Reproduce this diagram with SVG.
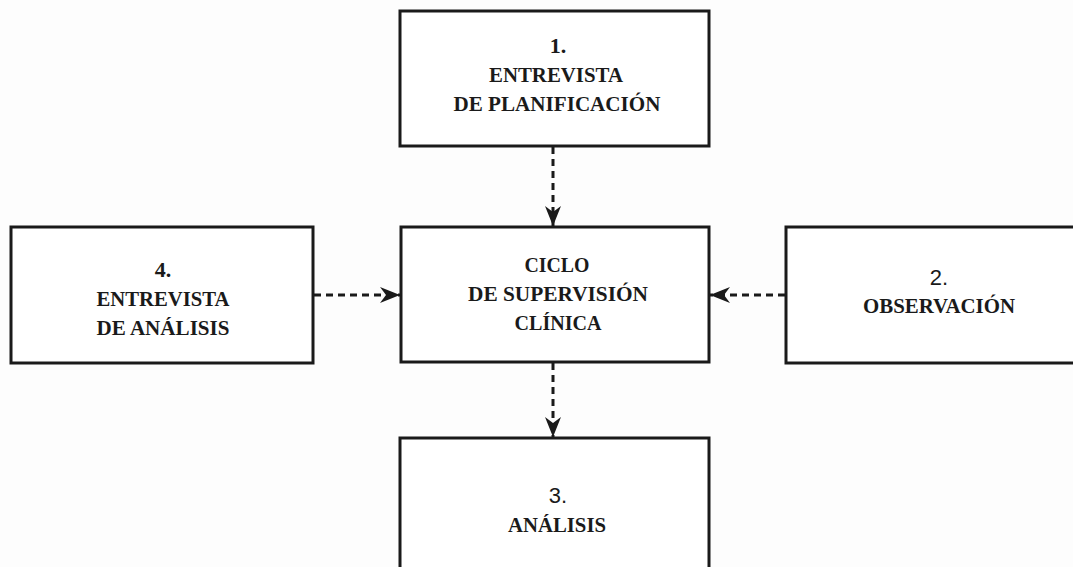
<svg xmlns="http://www.w3.org/2000/svg" width="1073" height="567" viewBox="0 0 1073 567">
  <style>
    .box { fill: #ffffff; stroke: #1a1a1a; stroke-width: 3; }
    .lbl { font-family: "Liberation Serif", "DejaVu Serif", serif; font-weight: bold; font-size: 22px; fill: #1a1a1a; text-anchor: middle; }
    .num { font-family: "Liberation Sans", "DejaVu Sans", sans-serif; font-weight: normal; font-size: 22px; }
    .conn { stroke: #1a1a1a; stroke-width: 3; stroke-dasharray: 7 5; fill: none; marker-end: url(#arrow); }
  </style>
  <defs>
    <marker id="arrow" viewBox="0 0 20 16" refX="20" refY="8" markerWidth="20" markerHeight="16" markerUnits="userSpaceOnUse" orient="auto">
      <path d="M0,0 L20,8 L0,16 L6,8 z" fill="#1a1a1a"/>
    </marker>
  </defs>
  <rect width="1073" height="567" fill="#fdfdfd"/>

  <g id="connectors">
    <line class="conn" x1="553" y1="147" x2="553" y2="226"/>
    <line class="conn" x1="553" y1="363" x2="553" y2="437"/>
    <line class="conn" x1="314" y1="295" x2="400" y2="295"/>
    <line class="conn" x1="785" y1="295" x2="710" y2="295"/>
  </g>

  <g id="node-1">
    <rect class="box" x="400" y="11" width="309" height="135"/>
    <text class="lbl" x="558" y="53">1.</text>
    <text class="lbl" x="556" y="82" textLength="134" lengthAdjust="spacingAndGlyphs">ENTREVISTA</text>
    <text class="lbl" x="557" y="111" textLength="207" lengthAdjust="spacingAndGlyphs">DE PLANIFICACIÓN</text>
  </g>

  <g id="node-center">
    <rect class="box" x="401" y="227" width="308" height="135"/>
    <text class="lbl" x="557" y="272" textLength="65" lengthAdjust="spacingAndGlyphs">CICLO</text>
    <text class="lbl" x="558" y="301" textLength="180" lengthAdjust="spacingAndGlyphs">DE SUPERVISIÓN</text>
    <text class="lbl" x="558" y="330" textLength="87" lengthAdjust="spacingAndGlyphs">CLÍNICA</text>
  </g>

  <g id="node-4">
    <rect class="box" x="11" y="227" width="302" height="136"/>
    <text class="lbl" x="163" y="277">4.</text>
    <text class="lbl" x="163" y="306" textLength="133" lengthAdjust="spacingAndGlyphs">ENTREVISTA</text>
    <text class="lbl" x="163" y="335" textLength="133" lengthAdjust="spacingAndGlyphs">DE ANÁLISIS</text>
  </g>

  <g id="node-2">
    <rect class="box" x="786" y="227" width="306" height="136"/>
    <text class="lbl num" x="939" y="285">2.</text>
    <text class="lbl" x="939" y="313" textLength="152" lengthAdjust="spacingAndGlyphs">OBSERVACIÓN</text>
  </g>

  <g id="node-3">
    <rect class="box" x="400" y="438" width="309" height="150"/>
    <text class="lbl num" x="558" y="503">3.</text>
    <text class="lbl" x="557" y="532" textLength="98" lengthAdjust="spacingAndGlyphs">ANÁLISIS</text>
  </g>
</svg>
